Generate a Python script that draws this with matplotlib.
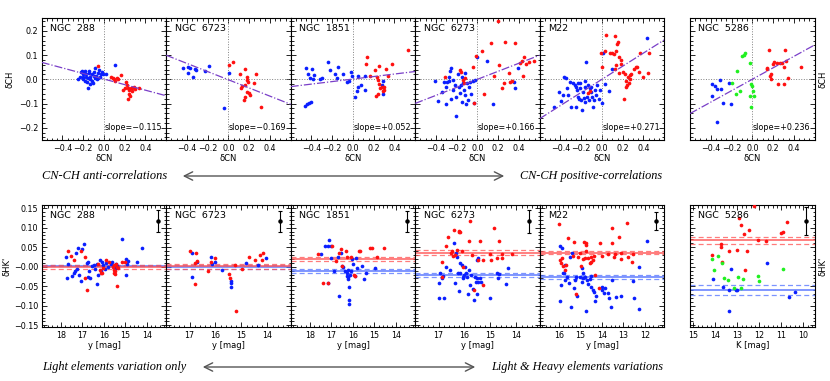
import numpy as np
import matplotlib
matplotlib.use("Agg")
import matplotlib.pyplot as plt
from matplotlib.ticker import MultipleLocator, FixedLocator
from matplotlib.patches import FancyArrowPatch

# cluster names
top_names = ["NGC  288", "NGC  6723", "NGC  1851", "NGC  6273", "M22", "NGC  5286"]

# ---- top row: dCN vs dCH ----
ngc288_top_blue = [(-0.25, 0.00), (-0.23, 0.01), (-0.22, 0.03), (-0.21, 0.035), (-0.20, 0.02), (-0.20, 0.00),
                   (-0.19, 0.025), (-0.18, 0.035), (-0.17, 0.01), (-0.165, -0.01), (-0.155, -0.035), (-0.145, 0.025),
                   (-0.14, 0.035), (-0.135, 0.01), (-0.13, 0.00), (-0.12, 0.02), (-0.11, -0.015), (-0.10, 0.03),
                   (-0.09, 0.005), (-0.085, 0.045), (-0.08, 0.015), (-0.07, 0.00), (-0.06, 0.025), (-0.05, 0.04),
                   (-0.04, 0.01), (-0.03, 0.02), (-0.02, 0.03), (-0.01, 0.02), (0.02, 0.02), (0.11, 0.06),
                   (-0.18, -0.005), (-0.15, 0.005), (-0.12, -0.005), (-0.10, 0.015), (-0.06, 0.005), (-0.17, 0.02),
                   (-0.13, -0.02), (-0.20, 0.01)]
ngc288_top_red = [(-0.055, 0.054), (0.07, 0.01), (0.09, 0.005), (0.10, 0.0), (0.11, -0.005), (0.125, 0.007),
                  (0.14, 0.001), (0.16, 0.018), (0.18, -0.045), (0.215, -0.01), (0.22, -0.025), (0.23, -0.035),
                  (0.24, -0.045), (0.245, -0.06), (0.25, -0.07), (0.265, -0.035), (0.27, -0.05), (0.285, -0.03),
                  (0.295, -0.04), (0.335, -0.035), (0.20, -0.035), (0.23, -0.08), (0.275, -0.035)]

ngc6723_top_blue = [(-0.437, 0.048), (-0.392, 0.052), (-0.373, 0.046), (-0.389, 0.025), (-0.341, 0.011),
                    (-0.325, 0.043), (-0.309, 0.039), (-0.228, 0.034), (-0.183, 0.055), (-0.039, -0.12),
                    (0.006, 0.025)]
ngc6723_top_red = [(0.01, 0.058), (0.04, 0.07), (0.11, 0.022), (0.164, 0.041), (0.174, 0.008), (0.18, -0.003),
                   (0.186, -0.01), (0.122, -0.037), (0.164, -0.023), (0.18, -0.051), (0.196, -0.058),
                   (0.206, -0.065), (0.164, -0.072), (0.148, -0.086), (0.244, -0.014), (0.27, 0.022),
                   (0.315, -0.113), (0.13, -0.028)]

ngc1851_top_blue = [(-0.46, -0.11), (-0.44, -0.103), (-0.42, -0.097), (-0.405, -0.092), (-0.45, 0.046),
                    (-0.43, 0.022), (-0.41, 0.004), (-0.39, 0.043), (-0.38, 0.018), (-0.385, 0.0), (-0.32, 0.001),
                    (-0.30, 0.004), (-0.24, 0.07), (-0.22, 0.039), (-0.17, 0.022), (-0.14, 0.05), (-0.154, 0.004),
                    (-0.096, 0.022), (-0.058, -0.01), (-0.04, -0.006), (-0.02, 0.032), (-0.01, 0.014),
                    (0.02, -0.072), (0.04, -0.047), (0.045, -0.033), (0.05, 0.014), (0.077, -0.023),
                    (0.12, 0.014), (0.12, -0.044), (0.29, -0.06), (0.29, -0.006), (0.28, -0.023)]
ngc1851_top_red = [(0.14, 0.094), (0.13, 0.063), (0.16, 0.014), (0.25, 0.055), (0.215, 0.039), (0.23, 0.011),
                   (0.24, -0.003), (0.254, -0.019), (0.264, -0.037), (0.225, -0.069), (0.24, -0.06),
                   (0.296, -0.033), (0.30, -0.044), (0.315, 0.041), (0.334, 0.014), (0.376, 0.063),
                   (0.527, 0.121), (0.29, -0.047), (0.28, -0.03)]

ngc6273_top_blue = [(-0.41, -0.007), (-0.38, -0.088), (-0.34, -0.052), (-0.32, -0.012), (-0.30, -0.103),
                    (-0.30, -0.033), (-0.29, -0.01), (-0.277, 0.011), (-0.267, 0.034), (-0.257, 0.048),
                    (-0.273, -0.007), (-0.257, -0.083), (-0.24, -0.003), (-0.21, -0.072), (-0.203, -0.152),
                    (-0.187, 0.022), (-0.17, -0.058), (-0.154, -0.023), (-0.148, -0.092), (-0.138, -0.014),
                    (-0.129, -0.044), (-0.122, 0.025), (-0.116, -0.065), (-0.106, -0.10), (-0.096, -0.014),
                    (-0.09, -0.086), (-0.08, -0.033), (-0.068, -0.01), (-0.058, -0.061), (-0.04, -0.007),
                    (-0.032, -0.099), (-0.019, -0.003), (0.0, 0.094), (0.096, 0.077), (0.15, -0.10),
                    (0.36, -0.037), (0.354, -0.01), (0.39, 0.046), (-0.145, 0.011), (-0.22, -0.023),
                    (-0.24, -0.045), (-0.177, -0.033)]
ngc6273_top_red = [(-0.315, 0.011), (-0.17, 0.039), (-0.154, 0.032), (-0.129, -0.017), (-0.138, -0.003),
                   (-0.12, 0.007), (-0.04, 0.052), (-0.035, -0.099), (-0.016, 0.097), (0.045, 0.117),
                   (0.061, -0.062), (0.13, 0.152), (0.16, 0.015), (0.2, 0.241), (0.21, 0.059), (0.267, 0.154),
                   (0.24, -0.037), (0.257, -0.017), (0.3, 0.028), (0.31, -0.01), (0.33, -0.007), (0.36, 0.149),
                   (0.41, 0.066), (0.43, 0.076), (0.45, 0.091), (0.466, 0.063), (0.5, 0.073), (0.546, 0.076),
                   (0.44, 0.014)]

m22_top_blue = [(-0.46, -0.116), (-0.41, -0.051), (-0.39, -0.088), (-0.376, -0.065), (-0.37, 0.011),
                (-0.35, 0.007), (-0.338, -0.037), (-0.328, -0.065), (-0.312, -0.01), (-0.296, -0.113),
                (-0.28, -0.017), (-0.264, -0.023), (-0.254, -0.033), (-0.248, -0.113), (-0.238, -0.044),
                (-0.232, -0.072), (-0.222, -0.083), (-0.215, -0.037), (-0.21, -0.014), (-0.2, -0.086),
                (-0.19, -0.127), (-0.183, -0.051), (-0.177, -0.079), (-0.167, -0.033), (-0.16, -0.092),
                (-0.15, 0.073), (-0.145, -0.072), (-0.135, -0.023), (-0.125, -0.086), (-0.12, -0.037),
                (-0.11, -0.051), (-0.103, -0.03), (-0.093, -0.072), (-0.087, -0.116), (-0.077, -0.086),
                (-0.07, -0.044), (-0.055, -0.065), (-0.045, -0.023), (-0.029, -0.083), (-0.016, -0.044),
                (-0.003, -0.097), (0.01, 0.11), (0.032, -0.021), (0.064, -0.047), (0.1, 0.041), (0.437, 0.17),
                (-0.167, -0.007), (-0.232, -0.017)]
m22_top_red = [(-0.135, -0.058), (-0.12, -0.047), (-0.006, 0.108), (0.003, 0.052), (0.026, 0.115),
               (0.042, 0.183), (0.074, 0.108), (0.096, 0.108), (0.116, 0.104), (0.138, 0.115), (0.145, 0.145),
               (0.125, 0.177), (0.154, 0.156), (0.164, 0.094), (0.138, 0.059), (0.122, 0.041), (0.164, 0.028),
               (0.18, 0.062), (0.186, 0.08), (0.2, 0.032), (0.219, 0.022), (0.235, -0.007), (0.241, -0.023),
               (0.228, -0.033), (0.25, 0.008), (0.267, 0.0), (0.212, -0.083), (0.283, 0.022), (0.305, 0.043),
               (0.325, 0.05), (0.34, 0.05), (0.357, 0.032), (0.37, 0.11), (0.395, 0.008), (0.444, 0.028),
               (0.453, 0.11), (0.26, -0.017), (0.267, 0.018)]

ngc5286_top_blue = [(-0.386, -0.021), (-0.363, -0.028), (-0.344, -0.175), (-0.312, -0.003), (-0.338, -0.041),
                    (-0.30, -0.041), (-0.389, -0.068), (-0.286, -0.097), (-0.209, -0.102), (-0.225, -0.014)]
ngc5286_top_green = [(-0.193, -0.017), (-0.151, 0.036), (-0.119, -0.05), (-0.161, -0.061), (-0.103, 0.097),
                     (-0.08, 0.1), (-0.071, 0.11), (-0.026, 0.069), (-0.016, -0.019), (0.0, -0.028),
                     (0.006, -0.048), (-0.022, -0.069), (-0.01, -0.116), (0.016, -0.069)]
ngc5286_top_red = [(0.138, 0.041), (0.145, 0.046), (0.161, 0.119), (0.17, 0.014), (0.177, 0.0), (0.183, 0.022),
                   (0.196, 0.063), (0.209, 0.073), (0.241, 0.066), (0.248, -0.021), (0.267, 0.069),
                   (0.29, 0.066), (0.305, 0.05), (0.312, 0.119), (0.33, 0.076), (0.344, 0.007),
                   (0.305, -0.021), (0.473, 0.052)]

fit_slopes = [-0.115, -0.169, 0.052, 0.166, 0.271, 0.236]
fit_intercepts = [0.001, -0.002, 0.001, 0.0, 0.0, 0.0]

# ---- bottom row: magnitude vs dHK' ----
ngc288_bot_blue = [(17.78, 0.026), (17.66, 0.007), (17.7, -0.028), (17.5, -0.024), (17.4, -0.015), (17.35, -0.01),
                   (17.32, 0.034), (17.27, -0.006), (17.19, 0.047), (17.15, -0.021), (17.09, -0.036),
                   (17.04, 0.046), (16.91, 0.058), (16.8, 0.009), (16.76, -0.025), (16.73, 0.011), (16.68, -0.01),
                   (16.65, -0.028), (16.57, 0.002), (16.45, 0.005), (16.34, 0.007), (16.31, -0.045),
                   (16.26, -0.021), (16.19, 0.017), (16.14, -0.01), (16.11, 0.013), (16.03, 0.005),
                   (15.95, -0.006), (15.91, 0.009), (15.8, 0.0), (15.67, 0.007), (15.61, 0.013), (15.52, 0.0),
                   (15.46, 0.007), (15.43, -0.004), (15.38, 0.002), (15.15, 0.07), (14.95, 0.019), (14.91, 0.007),
                   (14.98, -0.021), (14.48, 0.013), (14.25, 0.047), (14.87, 0.015), (16.42, -0.006)]
ngc288_bot_red = [(17.66, 0.039), (17.53, 0.028), (17.38, 0.016), (17.07, 0.041), (16.88, 0.024), (16.88, -0.03),
                  (16.78, -0.06), (16.29, 0.007), (16.19, -0.008), (16.14, -0.017), (16.11, -0.015),
                  (16.06, -0.002), (15.91, 0.017), (15.77, 0.013), (15.57, 0.0), (15.52, -0.008), (15.52, -0.015),
                  (15.49, -0.018), (15.44, 0.007), (15.41, 0.0), (15.33, -0.002), (15.41, -0.049), (15.15, 0.012),
                  (15.02, 0.011), (15.49, -0.01), (15.55, 0.005)]

ngc6723_bot_blue = [(16.91, 0.036), (16.91, -0.027), (16.7, 0.012), (16.16, 0.026), (16.12, 0.006), (16.0, 0.011),
                    (15.75, -0.008), (15.39, -0.036), (15.39, -0.051), (15.42, -0.042), (14.84, 0.009),
                    (14.38, 0.005), (14.07, 0.022)]
ngc6723_bot_red = [(17.0, 0.041), (16.74, 0.035), (16.78, 0.009), (16.73, 0.015), (16.78, -0.044), (16.29, -0.012),
                   (16.19, 0.013), (16.0, 0.023), (15.48, -0.018), (15.45, -0.028), (15.23, 0.005),
                   (15.19, -0.113), (14.97, -0.006), (14.71, 0.024), (14.48, 0.017), (14.29, 0.029),
                   (14.17, 0.036), (14.22, 0.017)]

ngc1851_bot_blue = [(17.5, 0.032), (17.3, 0.052), (17.18, 0.054), (17.12, 0.069), (17.04, 0.053), (17.15, -0.042),
                    (17.02, 0.022), (16.87, -0.01), (16.71, 0.026), (16.65, -0.075), (16.56, 0.036),
                    (16.53, 0.002), (16.45, 0.0), (16.37, -0.01), (16.3, -0.015), (16.26, -0.024),
                    (16.25, -0.032), (16.22, -0.027), (16.17, -0.053), (16.19, -0.085), (16.19, -0.095),
                    (16.14, -0.021), (16.11, -0.011), (16.06, 0.021), (15.98, 0.007), (15.88, 0.022),
                    (15.83, -0.004), (15.91, -0.024), (15.57, 0.002), (15.47, -0.031), (15.4, -0.017),
                    (14.98, -0.002), (16.25, -0.008)]
ngc1851_bot_red = [(17.61, 0.032), (17.38, -0.041), (17.18, -0.042), (16.99, 0.053), (16.81, 0.015),
                   (16.56, 0.045), (16.34, 0.039), (16.3, 0.026), (16.53, 0.002), (16.09, 0.024),
                   (15.95, -0.021), (15.91, -0.024), (15.72, 0.041), (15.69, 0.039), (15.21, 0.049),
                   (15.13, 0.049), (14.87, 0.026), (14.56, 0.047), (16.64, 0.034)]

ngc6273_bot_blue = [(17.0, -0.042), (16.97, -0.081), (16.94, -0.015), (16.86, -0.03), (16.78, -0.081),
                    (16.81, -0.024), (16.72, 0.0), (16.55, -0.008), (16.4, 0.06), (16.36, -0.042),
                    (16.33, 0.034), (16.29, 0.026), (16.23, -0.062), (16.26, -0.015), (16.17, 0.009),
                    (16.1, 0.005), (16.06, -0.026), (16.04, -0.03), (16.0, -0.021), (15.97, 0.0),
                    (15.91, -0.026), (15.85, -0.07), (15.81, -0.008), (15.78, -0.047), (15.74, -0.021),
                    (15.68, -0.058), (15.65, -0.085), (15.59, -0.026), (15.56, -0.038), (15.53, -0.03),
                    (15.53, -0.071), (15.5, 0.017), (15.46, 0.022), (15.46, -0.038), (15.4, -0.028),
                    (15.37, -0.038), (15.01, -0.079), (14.73, -0.015), (14.69, -0.03), (14.65, -0.019),
                    (14.41, -0.045), (14.31, -0.002), (16.19, -0.015), (15.94, -0.017)]
ngc6273_bot_red = [(16.87, 0.011), (16.71, 0.053), (16.62, 0.075), (16.42, 0.094), (16.53, 0.036), (16.49, 0.039),
                   (16.45, 0.028), (16.36, 0.03), (16.29, 0.043), (16.23, 0.09), (16.21, 0.092), (16.19, 0.088),
                   (16.1, 0.039), (16.04, -0.001), (15.81, 0.066), (15.78, 0.116), (15.65, -0.059),
                   (15.72, 0.03), (15.46, 0.017), (15.42, 0.067), (15.27, -0.047), (15.27, 0.017),
                   (15.01, 0.032), (14.99, 0.017), (14.88, 0.099), (14.73, 0.022), (14.65, 0.066),
                   (14.56, 0.022), (14.56, 0.032), (14.18, 0.033), (16.87, -0.026)]

m22_bot_blue = [(15.97, 0.054), (15.94, -0.087), (15.84, 0.047), (15.81, -0.017), (15.77, -0.015), (15.7, -0.034),
                (15.63, -0.027), (15.53, -0.042), (15.47, 0.026), (15.42, -0.102), (15.39, 0.036),
                (15.31, -0.055), (15.27, -0.034), (15.19, -0.025), (15.16, -0.075), (15.0, -0.027),
                (14.94, -0.038), (14.91, -0.004), (14.88, -0.015), (14.8, -0.025), (14.72, -0.113),
                (14.69, -0.034), (14.64, -0.044), (14.57, -0.032), (14.52, -0.024), (14.49, -0.053),
                (14.44, -0.06), (14.36, -0.064), (14.33, -0.087), (14.29, -0.075), (14.02, -0.051),
                (13.98, -0.06), (13.91, -0.066), (13.87, -0.055), (13.74, -0.066), (13.66, -0.079),
                (13.6, -0.104), (13.55, -0.034), (13.35, -0.077), (13.12, -0.075), (12.57, -0.036),
                (12.5, -0.081), (12.28, 0.0), (12.26, -0.109), (11.89, 0.067), (15.89, -0.047),
                (15.74, 0.005), (14.88, -0.028)]
m22_bot_red = [(16.0, 0.11), (15.97, 0.016), (15.92, 0.01), (15.86, 0.022), (15.81, 0.002), (15.74, -0.008),
               (15.69, 0.005), (15.58, 0.073), (15.35, 0.028), (15.3, 0.064), (15.19, -0.071), (15.11, 0.026),
               (15.03, 0.034), (14.96, 0.002), (14.88, 0.019), (14.85, 0.064), (14.75, 0.056), (14.72, 0.062),
               (14.72, 0.039), (14.64, 0.022), (14.57, 0.009), (14.49, 0.013), (14.41, 0.017), (14.36, 0.028),
               (14.33, -0.021), (14.13, -0.054), (14.07, 0.06), (13.98, 0.028), (13.71, 0.032), (13.55, 0.099),
               (13.52, 0.06), (13.45, 0.024), (13.4, 0.033), (13.21, 0.076), (13.12, 0.02), (13.13, 0.034),
               (12.85, 0.111), (12.62, 0.013), (12.78, 0.024), (12.54, 0.033), (14.49, 0.026), (14.8, 0.022)]

ngc5286_bot_blue = [(14.09, -0.032), (13.65, -0.051), (13.39, -0.06), (13.39, -0.113), (13.28, -0.006),
                    (13.08, -0.06), (13.02, -0.06), (11.65, 0.009), (10.65, -0.077), (10.4, -0.064)]
ngc5286_bot_green = [(14.16, 0.021), (14.04, -0.008), (13.87, 0.028), (13.7, 0.009), (13.61, -0.03),
                     (13.43, -0.034), (13.14, -0.055), (12.99, -0.027), (12.85, -0.054), (12.76, -0.032),
                     (12.08, -0.024), (12.0, -0.036), (10.95, -0.005)]
ngc5286_bot_red = [(14.16, 0.029), (13.75, 0.058), (13.75, 0.05), (13.7, 0.011), (13.39, 0.039), (13.01, 0.044),
                   (12.91, 0.124), (12.84, 0.106), (12.72, 0.083), (12.64, -0.009), (12.56, 0.039),
                   (12.48, 0.094), (12.23, 0.155), (12.05, 0.068), (11.68, 0.066), (11.01, 0.086),
                   (10.95, 0.09), (10.74, 0.115)]

# mean levels and their errors
red_mean = [-0.001, 0.001, 0.020, 0.036, 0.036, 0.068]
red_err = [0.005, 0.007, 0.006, 0.006, 0.004, 0.009]
blue_mean = [0.003, -0.001, -0.010, -0.021, -0.027, -0.059]
blue_err = [0.002, 0.006, 0.005, 0.004, 0.005, 0.013]

# typical error bar (mag, value, err)
errbar_mag = [13.5, 13.5, 13.5, 13.5, 11.5, 9.9]
errbar_val = [0.116, 0.116, 0.116, 0.116, 0.116, 0.117]
errbar_err = [0.028, 0.026, 0.026, 0.030, 0.023, 0.036]

mag_limits = [(18.9, 13.1), (17.9, 13.1), (18.9, 13.1), (17.9, 13.1), (16.9, 11.1), (15.15, 9.5)]
mag_labels = ["y [mag]"] * 5 + ["K [mag]"]

top_blue = [ngc288_top_blue, ngc6723_top_blue, ngc1851_top_blue, ngc6273_top_blue, m22_top_blue, ngc5286_top_blue]
top_red = [ngc288_top_red, ngc6723_top_red, ngc1851_top_red, ngc6273_top_red, m22_top_red, ngc5286_top_red]
bot_blue = [ngc288_bot_blue, ngc6723_bot_blue, ngc1851_bot_blue, ngc6273_bot_blue, m22_bot_blue, ngc5286_bot_blue]
bot_red = [ngc288_bot_red, ngc6723_bot_red, ngc1851_bot_red, ngc6273_bot_red, m22_bot_red, ngc5286_bot_red]

BLUE = "#0a1eff"
RED = "#ff1010"
GREEN = "#20f020"
W, H = 830.0, 381.0

plt.rcParams["font.family"] = "DejaVu Sans"
plt.rcParams["axes.linewidth"] = 0.8

fig = plt.figure(figsize=(8.3, 3.81), dpi=100)

lefts = [41.7, 166.2, 290.7, 415.2, 539.7, 690.0]
pw = 124.5


def style(ax):
    ax.tick_params(which="both", direction="in", top=True, right=True, labelsize=5.8, pad=2.5, width=0.6)
    ax.tick_params(which="major", length=3.5)
    ax.tick_params(which="minor", length=1.8)


def scatter(ax, pts, color):
    a = np.array(pts)
    ax.scatter(a[:, 0], a[:, 1], s=7, color=color, linewidths=0, zorder=3)


for i in range(6):
    # ---- top panel ----
    ax = fig.add_axes([lefts[i] / W, (H - 140.3) / H, pw / W, 122.0 / H])
    ax.set_xlim(-0.6, 0.6)
    ax.set_ylim(-0.252, 0.252)
    ax.axhline(0, color="gray", ls=":", lw=0.7)
    ax.axvline(0, color="gray", ls=":", lw=0.7)
    scatter(ax, top_blue[i], BLUE)
    scatter(ax, top_red[i], RED)
    if i == 5:
        scatter(ax, ngc5286_top_green, GREEN)
    xs = np.array(ax.get_xlim())
    ax.plot(xs, fit_intercepts[i] + fit_slopes[i] * xs, color="#7a3fc8", ls="-.", lw=0.9, zorder=4)
    ax.set_xlim(-0.6, 0.6)
    ax.xaxis.set_major_locator(FixedLocator([-0.4, -0.2, 0.0, 0.2, 0.4]))
    ax.set_xticklabels(["\u22120.4", "\u22120.2", "0.0", "0.2", "0.4"])
    ax.xaxis.set_minor_locator(MultipleLocator(0.05))
    ax.yaxis.set_major_locator(FixedLocator([-0.2, -0.1, 0.0, 0.1, 0.2]))
    ax.yaxis.set_minor_locator(MultipleLocator(0.02))
    style(ax)
    ax.set_xlabel("\u03b4CN", fontsize=6, labelpad=1)
    if i == 0:
        ax.set_yticklabels(["\u22120.2", "\u22120.1", "0.0", "0.1", "0.2"])
        ax.set_ylabel("\u03b4CH", fontsize=6, labelpad=3)
    else:
        ax.set_yticklabels([])
    if i == 5:
        ax.yaxis.set_label_position("right")
        ax.set_ylabel("\u03b4CH", fontsize=6, labelpad=3)
    ax.text(0.067, 0.918, top_names[i], transform=ax.transAxes, fontsize=6.8, va="center")
    sign = "\u2212" if fit_slopes[i] < 0 else "+"
    ax.text(0.965, 0.103, "slope=%s%.3f" % (sign, abs(fit_slopes[i])), transform=ax.transAxes,
            fontsize=5.8, ha="right", va="center")

    # ---- bottom panel ----
    ax = fig.add_axes([lefts[i] / W, (H - 327.3) / H, pw / W, 122.3 / H])
    ax.set_xlim(*mag_limits[i])
    ax.set_ylim(-0.155, 0.158)
    for m, e, c in [(blue_mean[i], blue_err[i], "#5070ff"), (red_mean[i], red_err[i], "#ff5050")]:
        ax.axhline(m, color=c, lw=1.2, alpha=0.85, zorder=2)
        ax.axhline(m + e, color=c, lw=0.9, ls="--", dashes=(4, 2.5), alpha=0.75, zorder=2)
        ax.axhline(m - e, color=c, lw=0.9, ls="--", dashes=(4, 2.5), alpha=0.75, zorder=2)
    scatter(ax, bot_blue[i], BLUE)
    scatter(ax, bot_red[i], RED)
    if i == 5:
        scatter(ax, ngc5286_bot_green, GREEN)
    ax.errorbar([errbar_mag[i]], [errbar_val[i]], yerr=[errbar_err[i]], fmt="o", color="k",
                ms=2.2, lw=0.8, capsize=1.5, capthick=0.8, zorder=4)
    ax.xaxis.set_major_locator(MultipleLocator(1))
    ax.xaxis.set_minor_locator(MultipleLocator(0.2))
    ax.yaxis.set_major_locator(FixedLocator([-0.15, -0.10, -0.05, 0.0, 0.05, 0.10, 0.15]))
    ax.yaxis.set_minor_locator(MultipleLocator(0.01))
    style(ax)
    ax.set_xlabel(mag_labels[i], fontsize=6, labelpad=1)
    if i == 0:
        ax.set_yticklabels(["\u22120.15", "\u22120.10", "\u22120.05", "\u22120.00", "0.05", "0.10", "0.15"])
        ax.set_ylabel("\u03b4HK'", fontsize=6, labelpad=2)
    else:
        ax.set_yticklabels([])
    if i == 5:
        ax.yaxis.set_label_position("right")
        ax.set_ylabel("\u03b4HK'", fontsize=6, labelpad=3)
    ax.text(0.067, 0.918, top_names[i], transform=ax.transAxes, fontsize=6.8, va="center")

# italic captions, each sized to the width it has in the reference
captions = [("CN-CH anti-correlations", 41.7, 166.7, 176, "left"),
            ("CN-CH positive-correlations", 519.0, 661.7, 176, "right"),
            ("Light elements variation only", 41.7, 186.7, 367, "left"),
            ("Light & Heavy elements variations", 491.7, 662.7, 367, "right")]
renderer = fig.canvas.get_renderer()
for txt, x0, x1, y, ha in captions:
    xpos = x0 if ha == "left" else x1
    t = fig.text(xpos / W, 1 - y / H, txt, ha=ha, va="center", family="Liberation Serif",
                 style="italic", fontsize=10)
    wpx = t.get_window_extent(renderer).width
    t.set_fontsize(10 * (x1 - x0) / wpx)

for x0, x1, y in [(180, 507, 176), (200, 478, 367)]:
    arr = FancyArrowPatch((x0 / W, 1 - y / H), (x1 / W, 1 - y / H), transform=fig.transFigure,
                          arrowstyle="<->,head_length=6,head_width=3", color="#555555", lw=1.0)
    fig.add_artist(arr)

fig.savefig("out.png", dpi=100)
